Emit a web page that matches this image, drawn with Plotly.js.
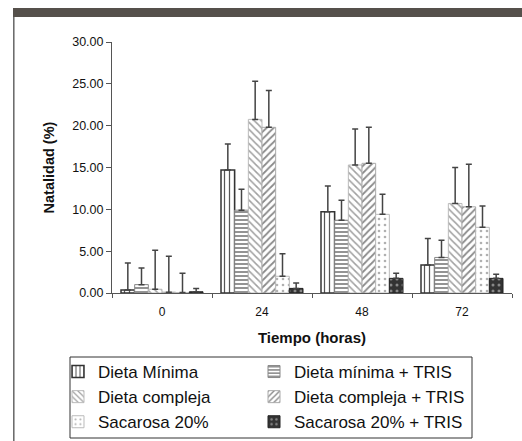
<!DOCTYPE html>
<html>
<head>
<meta charset="utf-8">
<script src="https://cdn.plot.ly/plotly-3.0.1.min.js"></script>
<style>html,body{margin:0;padding:0;background:#fff;}#chart{width:522px;height:441px;}</style>
</head>
<body>
<div id="chart"></div>
<script>
// Categories (hours)
const categories = ['0', '24', '48', '72'];
const seriesNames = ['Dieta Mínima', 'Dieta mínima + TRIS', 'Dieta compleja', 'Dieta compleja + TRIS', 'Sacarosa 20%', 'Sacarosa 20% + TRIS'];

// Natalidad (%) values
const dietaMinima        = [0.35, 14.7, 9.7, 3.35];
const dietaMinimaTris    = [1.0, 9.9, 8.7, 4.25];
const dietaCompleja      = [0.45, 20.75, 15.3, 10.7];
const dietaComplejaTris  = [0.1, 19.8, 15.5, 10.3];
const sacarosa20         = [0.05, 2.0, 9.4, 7.85];
const sacarosa20Tris     = [0.15, 0.55, 1.75, 1.75];

// Upper error amounts
const errDietaMinima       = [3.25, 3.1, 3.1, 3.15];
const errDietaMinimaTris   = [2.0, 2.5, 2.4, 2.05];
const errDietaCompleja     = [4.65, 4.55, 4.3, 4.3];
const errDietaComplejaTris = [4.3, 4.4, 4.3, 5.1];
const errSacarosa20        = [2.3, 2.7, 2.4, 2.55];
const errSacarosa20Tris    = [0.4, 0.65, 0.6, 0.5];

const values = [dietaMinima, dietaMinimaTris, dietaCompleja, dietaComplejaTris, sacarosa20, sacarosa20Tris];
const errors = [errDietaMinima, errDietaMinimaTris, errDietaCompleja, errDietaComplejaTris, errSacarosa20, errSacarosa20Tris];

const styles = [
  {bg: '#ffffff', fg: '#555555', shape: '|', size: 5, sol: 0.25, line: '#333333', lw: 1.5},
  {bg: '#ffffff', fg: '#666666', shape: '-', size: 4, sol: 0.35, line: '#888888', lw: 1},
  {bg: '#ffffff', fg: '#a0a0a0', shape: '\\', size: 5, sol: 0.3, line: '#bbbbbb', lw: 1},
  {bg: '#ffffff', fg: '#8a8a8a', shape: '/', size: 5, sol: 0.35, line: '#aaaaaa', lw: 1},
  {bg: '#ffffff', fg: '#b0b0b0', shape: '.', size: 6, sol: 0.15, line: '#bbbbbb', lw: 1},
  {bg: '#333333', fg: '#888888', shape: '.', size: 6, sol: 0.2, line: '#222222', lw: 1}
];

const traces = seriesNames.map((name, i) => ({
  type: 'bar',
  name: name,
  x: categories,
  y: values[i],
  legend: (i % 2 === 0) ? 'legend' : 'legend2',
  marker: {
    color: styles[i].bg,
    line: {color: styles[i].line, width: styles[i].lw},
    pattern: {shape: styles[i].shape, fgcolor: styles[i].fg, bgcolor: styles[i].bg, size: styles[i].size, solidity: styles[i].sol, fillmode: 'replace'}
  },
  error_y: {type: 'data', symmetric: false, array: errors[i], arrayminus: errors[i].map(() => 0), color: '#444444', thickness: 1.5, width: 3}
}));

const font = 'Liberation Sans, Arial, sans-serif';

const legendBase = {
  orientation: 'v',
  yanchor: 'top', xanchor: 'left',
  bgcolor: 'rgba(0,0,0,0)', borderwidth: 0,
  font: {size: 17, family: font, color: '#111'},
  itemwidth: 30, tracegroupgap: 0, traceorder: 'normal'
};

const layout = {
  width: 522, height: 441,
  margin: {l: 112, r: 10, t: 42, b: 148, autoexpand: false},
  paper_bgcolor: '#ffffff', plot_bgcolor: '#ffffff',
  font: {family: font, color: '#111111'},
  barmode: 'group',
  bargap: 0.18,
  bargroupgap: 0,
  showlegend: true,
  xaxis: {
    type: 'category',
    showline: true, linecolor: '#555555', linewidth: 1,
    ticks: 'outside', tickson: 'boundaries', ticklen: 4, tickcolor: '#555555',
    ticklabelstandoff: 8,
    tickfont: {size: 12, family: font, color: '#111'},
    title: {text: '<b>Tiempo (horas)</b>', font: {size: 15, family: font, color: '#111'}, standoff: 14},
    showgrid: false, zeroline: false
  },
  yaxis: {
    range: [0, 30], dtick: 5, tickformat: '.2f',
    showline: true, linecolor: '#555555', linewidth: 1,
    ticks: 'outside', ticklen: 5, tickcolor: '#555555',
    tickfont: {size: 12.5, family: font, color: '#111'},
    title: {text: '<b>Natalidad (%)</b>', font: {size: 14.5, family: font, color: '#111'}, standoff: 14},
    showgrid: false, zeroline: false
  },
  legend: Object.assign({}, legendBase, {x: -0.135, y: -0.243}),
  legend2: Object.assign({}, legendBase, {x: 0.355, y: -0.243}),
  shapes: [
    {type: 'rect', xref: 'paper', yref: 'paper', x0: -0.2475, x1: 1.03, y0: 1.0996, y1: 1.1355, fillcolor: '#55504b', line: {width: 0}},
    {type: 'line', xref: 'paper', yref: 'paper', x0: -0.2455, x1: -0.2455, y0: 1.0996, y1: -0.59, line: {color: '#666666', width: 1.5}},
    {type: 'rect', xref: 'paper', yref: 'paper', x0: -0.105, x1: 0.9, y0: -0.255, y1: -0.5777, line: {color: '#333333', width: 1}, fillcolor: 'rgba(0,0,0,0)', layer: 'below'}
  ]
};

Plotly.newPlot('chart', traces, layout, {displayModeBar: false, responsive: false});
</script>
</body>
</html>
